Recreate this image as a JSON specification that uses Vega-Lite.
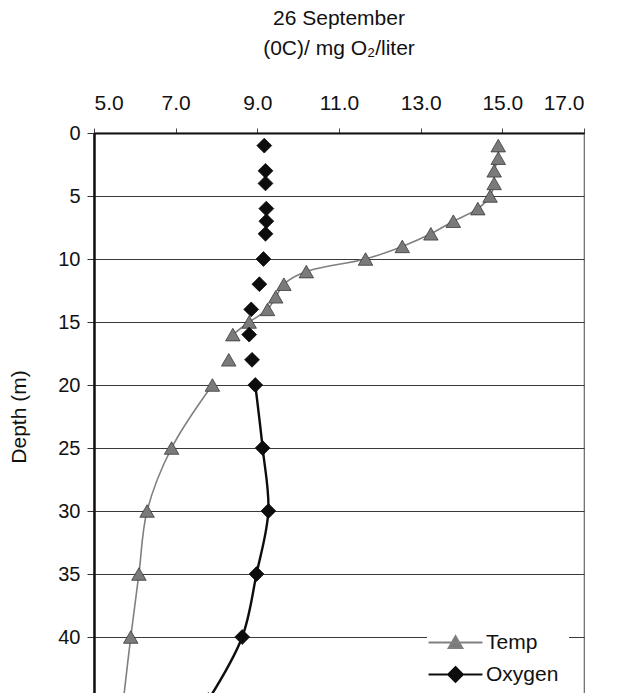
{
  "$schema": "https://vega.github.io/schema/vega-lite/v6.json",
  "width": 490,
  "height": 567,
  "autosize": "none",
  "padding": {"left": 94, "top": 133, "right": 40, "bottom": 0},
  "background": "white",
  "title": {
    "text": ["26 September", "(0C)/ mg O₂/liter"],
    "anchor": "middle",
    "frame": "group",
    "font": "Liberation Sans",
    "fontSize": 21,
    "fontWeight": "normal",
    "lineHeight": 30,
    "color": "#111",
    "offset": 33
  },
  "config": {
    "font": "Liberation Sans",
    "view": {"stroke": "#666", "strokeWidth": 1.2},
    "legend": {
      "orient": "none",
      "legendX": 333,
      "legendY": 481,
      "title": null,
      "fillColor": "white",
      "padding": 10,
      "labelFontSize": 21,
      "labelColor": "#111",
      "labelOffset": 12,
      "rowPadding": 3,
      "symbolSize": 1225,
      "symbolOpacity": 1,
      "symbolStrokeWidth": 1.8
    }
  },
  "datasets": {
    "rows": [
      {"depth": 1, "value": 14.9, "series": "Temp", "seg": "T1"},
      {"depth": 2, "value": 14.9, "series": "Temp", "seg": "T1"},
      {"depth": 3, "value": 14.8, "series": "Temp", "seg": "T1"},
      {"depth": 4, "value": 14.8, "series": "Temp", "seg": "T1"},
      {"depth": 5, "value": 14.7, "series": "Temp", "seg": "T1"},
      {"depth": 6, "value": 14.4, "series": "Temp", "seg": "T1"},
      {"depth": 7, "value": 13.8, "series": "Temp", "seg": "T1"},
      {"depth": 8, "value": 13.25, "series": "Temp", "seg": "T1"},
      {"depth": 9, "value": 12.55, "series": "Temp", "seg": "T1"},
      {"depth": 10, "value": 11.65, "series": "Temp", "seg": "T1"},
      {"depth": 11, "value": 10.2, "series": "Temp", "seg": "T1"},
      {"depth": 12, "value": 9.65, "series": "Temp", "seg": "T1"},
      {"depth": 13, "value": 9.45, "series": "Temp", "seg": "T1"},
      {"depth": 14, "value": 9.25, "series": "Temp", "seg": "T1"},
      {"depth": 15, "value": 8.8, "series": "Temp", "seg": "T1"},
      {"depth": 16, "value": 8.4, "series": "Temp", "seg": "T1"},
      {"depth": 18, "value": 8.3, "series": "Temp", "seg": "T2"},
      {"depth": 20, "value": 7.9, "series": "Temp", "seg": "T3"},
      {"depth": 25, "value": 6.9, "series": "Temp", "seg": "T3"},
      {"depth": 30, "value": 6.3, "series": "Temp", "seg": "T3"},
      {"depth": 35, "value": 6.1, "series": "Temp", "seg": "T3"},
      {"depth": 40, "value": 5.9, "series": "Temp", "seg": "T3"},
      {"depth": 45, "value": 5.72, "series": "Temp", "seg": "T3"},
      {"depth": 1, "value": 9.17, "series": "Oxygen", "seg": "O1"},
      {"depth": 3, "value": 9.2, "series": "Oxygen", "seg": "O2"},
      {"depth": 4, "value": 9.2, "series": "Oxygen", "seg": "O3"},
      {"depth": 6, "value": 9.22, "series": "Oxygen", "seg": "O4"},
      {"depth": 7, "value": 9.22, "series": "Oxygen", "seg": "O5"},
      {"depth": 8, "value": 9.2, "series": "Oxygen", "seg": "O6"},
      {"depth": 10, "value": 9.15, "series": "Oxygen", "seg": "O7"},
      {"depth": 12, "value": 9.05, "series": "Oxygen", "seg": "O8"},
      {"depth": 14, "value": 8.85, "series": "Oxygen", "seg": "O9"},
      {"depth": 16, "value": 8.8, "series": "Oxygen", "seg": "O10"},
      {"depth": 18, "value": 8.87, "series": "Oxygen", "seg": "O11"},
      {"depth": 20, "value": 8.95, "series": "Oxygen", "seg": "O12"},
      {"depth": 25, "value": 9.13, "series": "Oxygen", "seg": "O12"},
      {"depth": 30, "value": 9.27, "series": "Oxygen", "seg": "O12"},
      {"depth": 35, "value": 8.98, "series": "Oxygen", "seg": "O12"},
      {"depth": 40, "value": 8.63, "series": "Oxygen", "seg": "O12"},
      {"depth": 45, "value": 7.8, "series": "Oxygen", "seg": "O12"}
    ]
  },
  "data": {"name": "rows"},
  "encoding": {
    "x": {
      "field": "value",
      "type": "quantitative",
      "scale": {"domain": [5, 17], "nice": false, "zero": false},
      "axis": {
        "orient": "top",
        "title": null,
        "values": [5, 7, 9, 11, 13, 15, 17],
        "format": ".1f",
        "grid": false,
        "labelFontSize": 21,
        "labelColor": "#111",
        "labelPadding": 15,
        "tickSize": 5,
        "tickColor": "#444",
        "domainColor": "#111",
        "domainWidth": 2
      }
    },
    "y": {
      "field": "depth",
      "type": "quantitative",
      "scale": {"domain": [0, 45], "reverse": true, "nice": false, "zero": false},
      "axis": {
        "title": "Depth (m)",
        "titleFontSize": 21,
        "titleFontWeight": "normal",
        "titleColor": "#111",
        "titlePadding": 28,
        "values": [0, 5, 10, 15, 20, 25, 30, 35, 40, 45],
        "labelFontSize": 20,
        "labelColor": "#111",
        "labelPadding": 7,
        "tickSize": 7,
        "tickColor": "#333",
        "domainColor": "#111",
        "domainWidth": 2.5,
        "grid": true,
        "gridColor": "#3a3a3a",
        "gridWidth": 1.2
      }
    }
  },
  "layer": [
    {
      "transform": [{"filter": "datum.series === 'Temp'"}],
      "mark": {"type": "line", "interpolate": "catmull-rom", "color": "#808080", "strokeWidth": 1.6},
      "encoding": {
        "detail": {"field": "seg", "type": "nominal"},
        "order": {"field": "depth", "type": "quantitative"}
      }
    },
    {
      "transform": [{"filter": "datum.series === 'Oxygen'"}],
      "mark": {"type": "line", "interpolate": "catmull-rom", "color": "#0d0d0d", "strokeWidth": 2.4},
      "encoding": {
        "detail": {"field": "seg", "type": "nominal"},
        "order": {"field": "depth", "type": "quantitative"}
      }
    },
    {
      "transform": [{"filter": "datum.series === 'Temp'"}],
      "mark": {"type": "point", "shape": "triangle-up", "filled": true, "opacity": 1, "size": 210, "fill": "#7a7a7a", "stroke": "#3a3a3a", "strokeWidth": 0.8}
    },
    {
      "transform": [{"filter": "datum.series === 'Oxygen'"}],
      "mark": {"type": "point", "shape": "diamond", "filled": true, "opacity": 1, "size": 220, "fill": "#0d0d0d", "stroke": "#0d0d0d", "strokeWidth": 0.8}
    },
    {
      "mark": {"type": "point", "filled": true, "opacity": 0},
      "encoding": {
        "color": {
          "field": "series",
          "type": "nominal",
          "scale": {"domain": ["Temp", "Oxygen"], "range": ["#7a7a7a", "#0d0d0d"]}
        },
        "stroke": {
          "field": "series",
          "type": "nominal",
          "scale": {"domain": ["Temp", "Oxygen"], "range": ["#808080", "#0d0d0d"]}
        },
        "shape": {
          "field": "series",
          "type": "nominal",
          "scale": {
            "domain": ["Temp", "Oxygen"],
            "range": ["M-1.54,0L1.54,0M0,-0.37L0.4,0.32L-0.4,0.32Z", "M-1.54,0L1.54,0M0,-0.43L0.43,0L0,0.43L-0.43,0Z"]
          }
        }
      }
    }
  ]
}
